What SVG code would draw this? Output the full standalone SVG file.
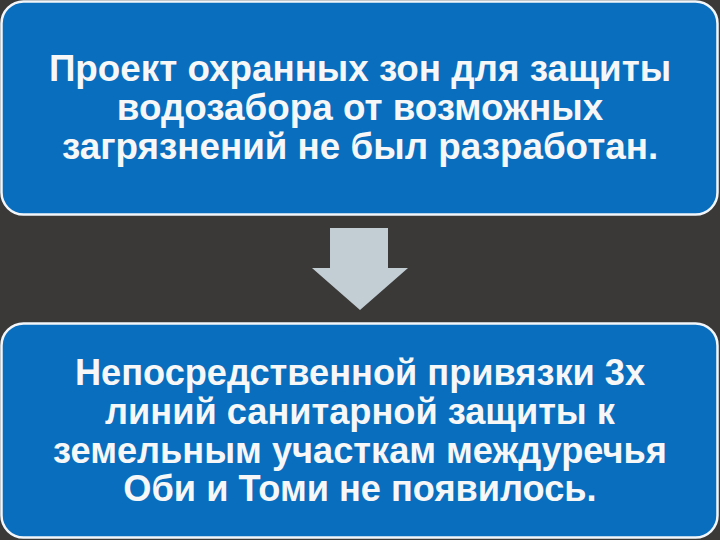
<svg xmlns="http://www.w3.org/2000/svg" width="720" height="540" viewBox="0 0 720 540">
<style>
.box{fill:#0A6EBF;stroke:#F2F6FA;stroke-width:2.5}
.t{font-family:"Liberation Sans",Arial,sans-serif;font-weight:bold;font-size:36.8px;fill:#F7F7F7;text-anchor:middle}
.b{font-size:36.2px}
</style>
<rect width="720" height="540" fill="#3A3937"/>
<g id="top">
<rect class="box" x="1.5" y="1.5" width="716" height="213" rx="22"/>
<text class="t" x="360" y="81">Проект охранных зон для защиты</text>
<text class="t" x="360" y="120">водозабора от возможных</text>
<text class="t" x="360" y="159">загрязнений не был разработан.</text>
</g>
<g id="connectors">
<polygon points="330,228 388,228 388,268 408,268 360,310 312,268 330,268" fill="#C3CDD4"/>
</g>
<g id="bottom">
<rect class="box" x="1.5" y="323.5" width="716" height="214" rx="22"/>
<text class="t b" x="360" y="385">Непосредственной привязки 3х</text>
<text class="t b" x="360" y="424">линий санитарной защиты к</text>
<text class="t b" x="360" y="463">земельным участкам междуречья</text>
<text class="t b" x="360" y="501">Оби и Томи не появилось.</text>
</g>
</svg>
